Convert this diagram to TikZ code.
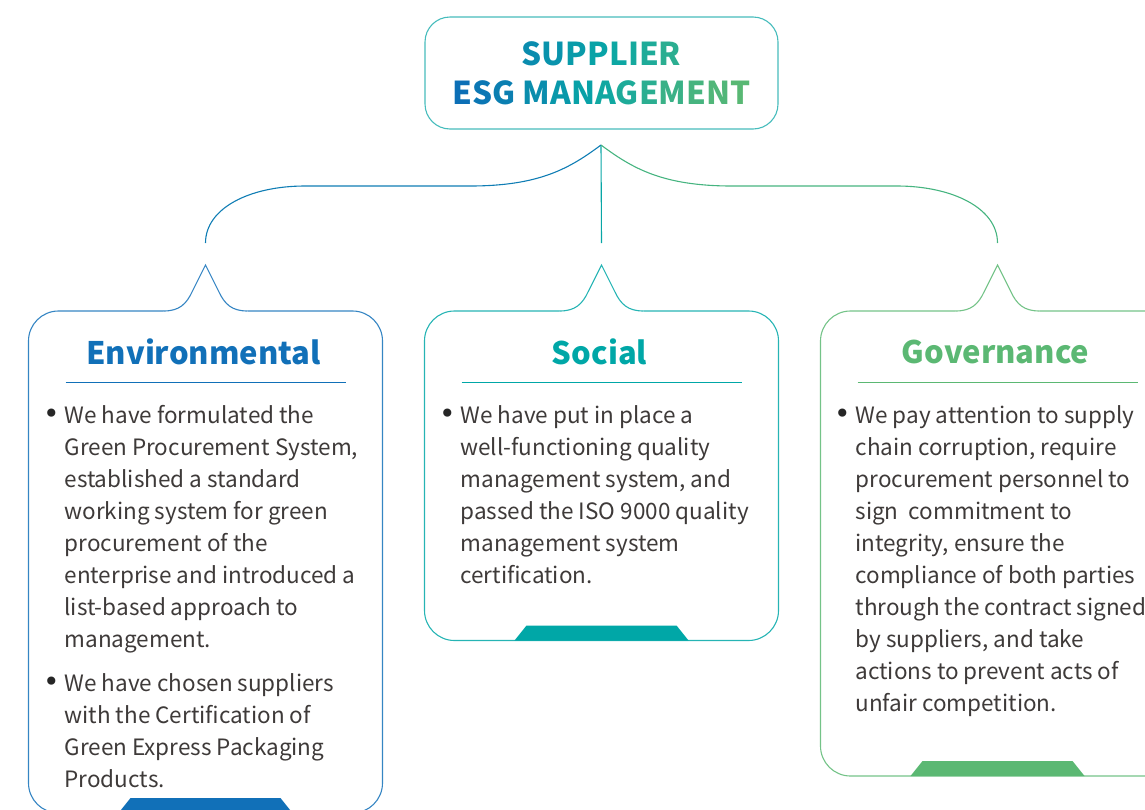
\documentclass[tikz,border=0pt]{standalone}
\usepackage{fontspec}
\setmainfont{Noto Sans CJK SC}
\newfontfamily\dejavu{DejaVu Sans}
\definecolor{esgblue}{HTML}{0C6DB7}
\definecolor{esgteal}{HTML}{08A6A6}
\definecolor{esggreen}{HTML}{5BB873}
\definecolor{envblue}{HTML}{1170B8}
\definecolor{socteal}{HTML}{00A7A7}
\definecolor{govgreen}{HTML}{5BB873}
\definecolor{bodygray}{HTML}{3E3A39}
\newcommand\esgc[2]{%
  \ifnum#1<50 \pgfmathtruncatemacro\esgv{100-2*#1}\textcolor{esgblue!\esgv!esgteal}{#2}%
  \else\pgfmathtruncatemacro\esgv{200-2*#1}\textcolor{esgteal!\esgv!esggreen}{#2}\fi}
\newcommand\bul{\llap{\textcolor{black!85}{\dejavu\fontsize{28}{28}\selectfont •}\hspace{5pt}}}
\begin{document}
\begin{tikzpicture}[x=1pt, y=-1pt, line width=1.1pt,
    titlebox/.style={draw=esgteal!75, rounded corners=25, minimum width=353, minimum height=112,
      align=center, font=\fontsize{31.5}{39}\selectfont\bfseries},
    headtext/.style={font=\fontsize{31}{36}\selectfont\bfseries},
    bodytext/.style={anchor=base west, align=left, inner sep=0pt, text=bodygray, font=\fontsize{22.5}{32}\selectfont}]
    \useasboundingbox (0,0) rectangle (1145,809);
    \clip (0,0) rectangle (1145,809);

    \node[titlebox] (title) at (601.5,73)
        {\esgc{27}{S}\esgc{33}{U}\esgc{40}{P}\esgc{47}{P}\esgc{53}{L}\esgc{58}{I}\esgc{63}{E}\esgc{71}{R}\\
         \esgc{2}{E}\esgc{9}{S}\esgc{16}{G} \esgc{28}{M}\esgc{38}{A}\esgc{46}{N}\esgc{55}{A}\esgc{63}{G}\esgc{71}{E}\esgc{80}{M}\esgc{88}{E}\esgc{94}{N}\esgc{99}{T}};

    \coordinate (apex) at (601,145);
    \coordinate (envtop) at (205.5,243);
    \coordinate (soctop) at (601.5,243);
    \coordinate (govtop) at (997.5,243);
    \draw[esgteal] (apex) -- (soctop);
    \draw[envblue!75!esgteal] (apex) .. controls (570,168) and (540,186) .. (470,186)
        -- (305,186) .. controls (250,186) and (205.5,208) .. (envtop);
    \draw[govgreen!75!esgteal] (apex) .. controls (632,168) and (662,186) .. (732,186)
        -- (897,186) .. controls (952,186) and (997.5,208) .. (govtop);

    \foreach \cx/\col/\bot/\hd in {205.5/envblue/813/Environmental,601.5/socteal/640.5/Social,997.5/govgreen/776/Governance}
    {
        \draw[\col!85, rounded corners=30] (\cx+42,311) -- (\cx+177,311) -- (\cx+177,\bot)
            -- (\cx-177,\bot) -- (\cx-177,311) -- (\cx-42,311);
        \draw[\col!85] (\cx-42,311) .. controls (\cx-26,311) and (\cx-19,304) .. (\cx-13,291)
            -- (\cx,265) -- (\cx+13,291) .. controls (\cx+19,304) and (\cx+26,311) .. (\cx+42,311);
        \fill[\col] (\cx-87,\bot) -- (\cx-75,\bot-15) -- (\cx+75,\bot-15) -- (\cx+87,\bot) -- cycle;
        \node[headtext, text=\col] (\hd) at (\cx-2,352) {\hd};
        \draw[\col, line width=0.9pt] (\cx-140,382) -- (\cx+140,382);
    }

    \node[bodytext] (env1) at (64,647) {\bul We have formulated the\\Green Procurement System,\\established a standard\\working system for green\\procurement of the\\enterprise and introduced a\\list-based approach to\\management.};
    \node[bodytext] (env2) at (64,787) {\bul We have chosen suppliers\\with the Certification of\\Green Express Packaging\\Products.};
    \node[bodytext] (soc1) at (460,583) {\bul We have put in place a\\well-functioning quality\\management system, and\\passed the ISO 9000 quality\\management system\\certification.};
    \node[bodytext] (gov1) at (855,711) {\bul We pay attention to supply\\chain corruption, require\\procurement personnel to\\sign~ commitment to\\integrity, ensure the\\compliance of both parties\\through the contract signed\\by suppliers, and take\\actions to prevent acts of\\unfair competition.};
\end{tikzpicture}
\end{document}
